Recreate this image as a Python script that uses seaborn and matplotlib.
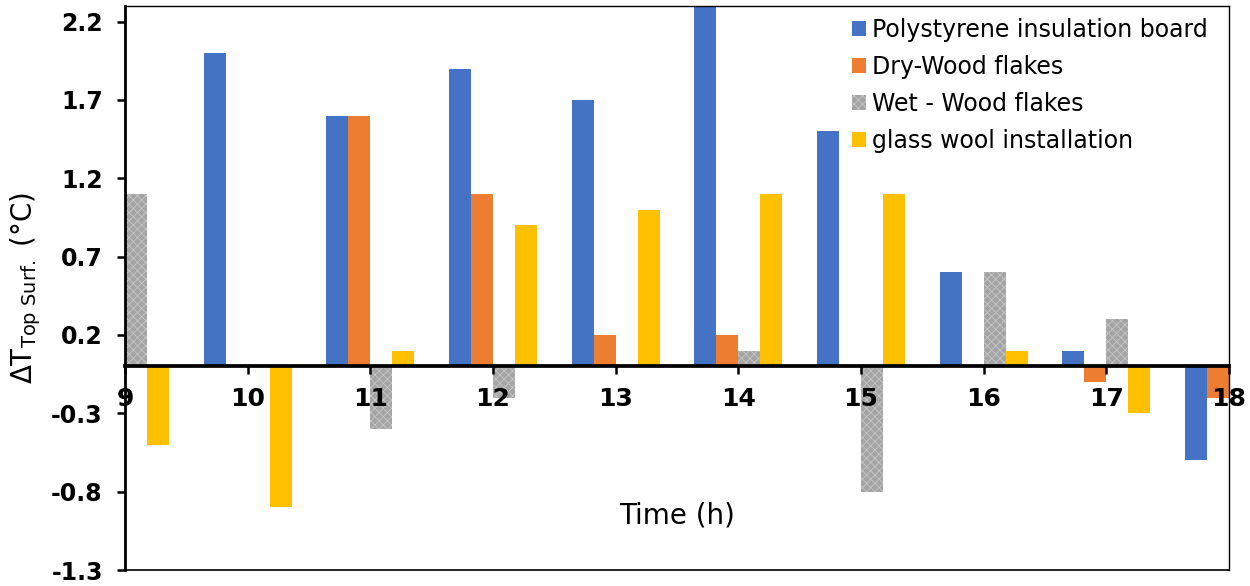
import pandas as pd
import matplotlib.pyplot as plt
import seaborn as sns

# ── datos ──
hours = [9, 10, 11, 12, 13, 14, 15, 16, 17, 18]
polystyrene = [0.0, 2.0, 1.6, 1.9, 1.7, 2.4, 1.5, 0.6, 0.1, -0.6]
dry_wood = [0.0, 0.0, 1.6, 1.1, 0.2, 0.2, 0.0, 0.0, -0.1, -0.2]
wet_wood = [1.1, 0.0, -0.4, -0.2, 0.0, 0.1, -0.8, 0.6, 0.3, -0.5]
glass_wool = [-0.5, -0.9, 0.1, 0.9, 1.0, 1.1, 1.1, 0.1, -0.3, 0.0]

series_names = ['Polystyrene insulation board', 'Dry-Wood flakes',
                'Wet - Wood flakes', 'glass wool installation']
colores = ['#4472C4', '#ED7D31', '#A5A5A5', '#FFC000']
y_ticks = [2.2, 1.7, 1.2, 0.7, 0.2, -0.3, -0.8, -1.3]

# ── tabla larga para seaborn ──
df = pd.DataFrame({
    'hour': hours * 4,
    'value': polystyrene + dry_wood + wet_wood + glass_wool,
    'serie': [s for s in series_names for _ in hours],
})

sns.set_theme(style='white')
plt.rcParams['font.family'] = ['DejaVu Sans']
plt.rcParams['text.color'] = 'black'
plt.rcParams['axes.labelcolor'] = 'black'
plt.rcParams['hatch.linewidth'] = 0.6

fig = plt.figure(figsize=(12.5, 5.86), dpi=100)
ax = fig.add_axes([0.1, 0.0273, 0.8832, 0.9625])

sns.barplot(data=df, x='hour', y='value', hue='serie', hue_order=series_names,
            palette=dict(zip(series_names, colores)), native_scale=True,
            width=0.72, errorbar=None, linewidth=0, saturation=1, ax=ax)

# patron de la serie gris
for p in ax.containers[2]:
    p.set_hatch('xxxx')
    p.set_edgecolor('#C6C6C6')
    if hasattr(p, 'set_hatchcolor'):
        p.set_hatchcolor('#C6C6C6')

# eje x cruzando en cero + marco (antes de tocar los ticks)
ax.spines['bottom'].set_position(('data', 0))
ax.spines['bottom'].set_linewidth(2.7)
ax.spines['left'].set_linewidth(2.0)
for s in ['top', 'right']:
    ax.spines[s].set_linewidth(1.0)
for s in ax.spines.values():
    s.set_color('black')
ax.plot([0, 1], [0, 0], transform=ax.transAxes, color='black', lw=1.2, clip_on=False)
ax.set_axisbelow(False)

ax.set_xlim(9, 18)
ax.set_ylim(-1.3, 2.3)
ax.set_xticks(hours)
ax.set_xticklabels([str(h) for h in hours], fontsize=18, fontweight='bold')
ax.set_yticks(y_ticks)
ax.set_yticklabels([f'{t:.1f}' for t in y_ticks], fontsize=17, fontweight='bold')
ax.tick_params(axis='x', bottom=True, direction='out', length=6, width=1.8,
               pad=9, colors='black')
ax.tick_params(axis='y', left=True, direction='out', length=6, width=1.8,
               pad=10, colors='black')

ax.set_xlabel('Time (h)', fontsize=20)
ax.xaxis.set_label_coords(0.5, 0.122)
ax.set_ylabel('ΔT$_{\\mathregular{Top\\ Surf.}}$ (°C)', fontsize=20, labelpad=6)

ax.get_legend().remove()
ax.legend([ax.containers[i] for i in range(4)], series_names, loc='upper right',
          bbox_to_anchor=(1, 1.016), frameon=False, fontsize=17,
          handlelength=0.6, handleheight=0.6, handletextpad=0.25,
          labelspacing=0.55, borderaxespad=0.5)

plt.savefig('out.png', dpi=100)
plt.close()
